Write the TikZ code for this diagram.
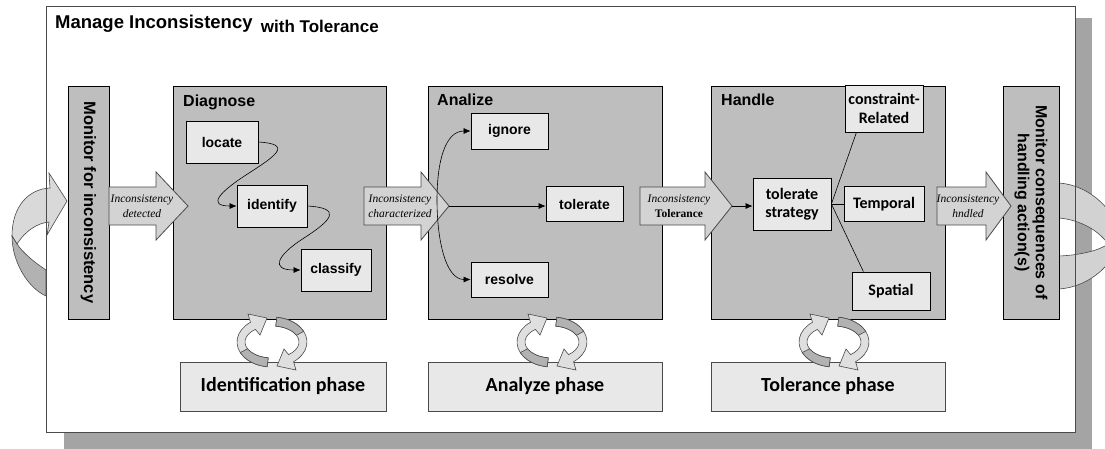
\documentclass[tikz,border=0pt]{standalone}
\usepackage{fontspec}
\setmainfont{Liberation Sans}
\newfontfamily\calibfont{Carlito}
\newfontfamily\timesfont{Liberation Serif}
\usetikzlibrary{arrows.meta,calc}

\definecolor{boxgray}{HTML}{BEBEBE}
\definecolor{lightbox}{HTML}{E8E8E8}
\definecolor{arrowgray}{HTML}{D3D3D3}
\definecolor{shadowgray}{HTML}{A4A4A4}
\definecolor{edgegray}{HTML}{4A4A4A}

% block arrow: x start, x tip, head length
\newcommand{\flowarrow}[3]{%
	\filldraw[fill=arrowgray, draw=edgegray, line width=0.8pt] (#1,-187) -- ({#2-#3},-187) -- ({#2-#3},-172) -- (#2,-206) -- ({#2-#3},-240) -- ({#2-#3},-225) -- (#1,-225) -- cycle;
}

% pair of turning arrows round a centre
\newcommand{\cyclearrows}[2]{%
	\foreach \ang in {0,180} {
	\begin{scope}[shift={(#1,#2)}, rotate=\ang]
		\filldraw[fill=gray!25, draw=edgegray, line width=0.6pt] (262:35 and 25) arc[start angle=262, end angle=128, x radius=35, y radius=25] -- (-24,28) -- (-5,24) -- (-12,7) -- (128:27 and 16) arc[start angle=128, end angle=262, x radius=27, y radius=16] -- cycle;
		\filldraw[fill=gray!60, draw=edgegray, line width=0.6pt] (262:35 and 25) arc[start angle=262, end angle=205, x radius=35, y radius=25] -- (205:27 and 16) arc[start angle=205, end angle=262, x radius=27, y radius=16] -- cycle;
	\end{scope}}
}

\begin{document}
\begin{tikzpicture}[x=1pt, y=1pt,
	stage/.style={draw=black, fill=boxgray, line width=0.8pt, inner sep=0pt},
	boxtitle/.style={anchor=base west, inner sep=0pt, font=\bfseries\fontsize{16}{19}\selectfont},
	task/.style={draw=black, fill=lightbox, line width=0.8pt, inner sep=0pt, font=\bfseries\fontsize{14}{16}\selectfont},
	strat/.style={draw=black, fill=lightbox, line width=0.8pt, inner sep=0pt, align=center, font=\calibfont\bfseries\fontsize{16}{18.5}\selectfont},
	phase/.style={draw=edgegray, fill=lightbox, line width=0.8pt, minimum width=234, minimum height=49, inner sep=0pt, font=\calibfont\bfseries\fontsize{20}{23}\selectfont},
	flowtext/.style={align=center, inner sep=0pt, font=\timesfont\itshape\fontsize{11.5}{15}\selectfont},
	conn/.style={-{Latex[length=7pt, width=6pt]}, line width=0.6pt},
	plain/.style={line width=0.6pt}]

	\useasboundingbox (0,0) rectangle (1105,-448);

	% frame with its shadow
	\fill[shadowgray] (64,-18) rectangle (1092,-460);
	\fill[white] (46,-6) rectangle (1075,-432);

	% loop arrow on the left
	\filldraw[fill=gray!30, draw=edgegray, line width=0.6pt] (50,-188) .. controls (28,-189) and (12,-207) .. (12,-236) -- (17,-244) .. controls (26,-230) and (38,-223) .. (49,-222) -- (47,-235) -- (67,-201) -- (49,-173) -- cycle;
	\filldraw[fill=gray!60, draw=edgegray, line width=0.6pt] (12,-236) .. controls (12,-262) and (28,-288) .. (46,-296) -- (46,-270) .. controls (34,-262) and (23,-253) .. (17,-244) -- cycle;

	% loop on the right
	\filldraw[fill=gray!35, draw=edgegray, line width=0.6pt, even odd rule] (1059,-183) .. controls (1090,-185) and (1118,-212) .. (1118,-237) .. controls (1118,-262) and (1090,-287) .. (1059,-289) -- cycle (1059,-218) .. controls (1082,-220) and (1100,-232) .. (1108,-244) .. controls (1100,-250) and (1082,-255) .. (1059,-256) -- cycle;

	\draw[edgegray, line width=1pt] (46,-6) rectangle (1075,-432);

	\node[anchor=base west, inner sep=0pt, font=\bfseries\fontsize{18.5}{22}\selectfont] (title) at (55,-28) {Manage Inconsistency};
	\node[anchor=base west, inner sep=0pt, font=\bfseries\fontsize{17}{20}\selectfont] (titletail) at ($(title.base east)+(8,-4)$) {with Tolerance};

	% monitors
	\node[stage, rotate=-90, minimum width=233, minimum height=41, font=\bfseries\fontsize{16.5}{19}\selectfont] (monitor) at (88.5,-202.5) {Monitor for inconsistency};
	\node[stage, rotate=-90, minimum width=233, minimum height=56, align=center, font=\bfseries\fontsize{16}{18}\selectfont] (consequences) at (1031,-202.5) {Monitor consequences of\\handling action(s)};

	% stages
	\node[stage, minimum width=213, minimum height=233] (diagnose) at (279.5,-202.5) {};
	\node[stage, minimum width=234, minimum height=233] (analize) at (545,-202.5) {};
	\node[stage, minimum width=234, minimum height=233] (handle) at (828,-202.5) {};
	\node[boxtitle] (diagnosetitle) at (183,-106) {Diagnose};
	\node[boxtitle] (analizetitle) at (437,-105) {Analize};
	\node[boxtitle] (handletitle) at (721,-105) {Handle};

	\node[task, minimum width=72, minimum height=42] (locate) at (222,-142) {locate};
	\node[task, minimum width=70, minimum height=42] (identify) at (272,-206) {identify};
	\node[task, minimum width=70, minimum height=42] (classify) at (336,-270) {classify};

	\node[task, minimum width=77, minimum height=36] (ignore) at (509.5,-131) {ignore};
	\node[task, minimum width=77, minimum height=35] (tolerate) at (584.5,-204) {tolerate};
	\node[task, minimum width=77, minimum height=35] (resolve) at (509.5,-279.5) {resolve};

	\node[strat, minimum width=78, minimum height=52] (strategy) at (792,-204) {tolerate\\strategy};
	\node[strat, minimum width=78, minimum height=47] (constraint) at (884,-108.5) {constraint-\\Related};
	\node[strat, minimum width=80, minimum height=35] (temporal) at (884,-204) {Temporal};
	\node[strat, minimum width=78, minimum height=38] (spatial) at (891,-291) {Spatial};

	% flow arrows
	\flowarrow{109}{188}{32}
	\flowarrow{364}{449}{28}
	\flowarrow{640}{732}{27}
	\flowarrow{937}{1011}{25}
	\node[flowtext] (detected) at (142,-206) {Inconsistency\\detected};
	\node[flowtext] (characterized) at (400,-206) {Inconsistency\\characterized};
	\node[flowtext] (tolerance) at (679,-206) {Inconsistency\\{\upshape\bfseries Tolerance}};
	\node[flowtext] (handled) at (968,-206) {Inconsistency\\hndled};
	\coordinate (charactip) at (449,-206);
	\coordinate (branch) at (437,-200);
	\coordinate (toltip) at (732,-206);

	\draw[conn] (locate.east) .. controls +(35,-2) and +(28,18) .. ($(locate.east)!0.5!(identify.west)$) .. controls +(-28,-18) and +(-30,0) .. (identify.west);
	\draw[conn] (identify.east) .. controls +(35,-2) and +(28,18) .. ($(identify.east)!0.5!(classify.west)$) .. controls +(-28,-18) and +(-30,0) .. (classify.west);

	\draw[conn] (branch) .. controls +(0,40) and +(-25,0) .. (ignore.west);
	\draw[conn] (branch) .. controls +(0,-40) and +(-25,0) .. (resolve.west);
	\draw[conn] (charactip) -- (charactip -| tolerate.west);

	\draw[conn] (toltip) -- (toltip -| strategy.west);
	\draw[plain] (strategy.east) -- ($(constraint.south west)!0.15!(constraint.south east)$);
	\draw[plain] (strategy.east) -- (temporal.west);
	\draw[plain] (strategy.east) -- ($(spatial.north west)!0.15!(spatial.north east)$);

	% phases
	\node[phase, minimum width=206] (identphase) at (283,-386.5) {Identification phase};
	\node[phase] (analyzephase) at (545,-386.5) {Analyze phase};
	\node[phase] (tolerancephase) at (828,-386.5) {Tolerance phase};

	\cyclearrows{272}{-342}
	\cyclearrows{552}{-342}
	\cyclearrows{834}{-342}

\end{tikzpicture}
\end{document}
